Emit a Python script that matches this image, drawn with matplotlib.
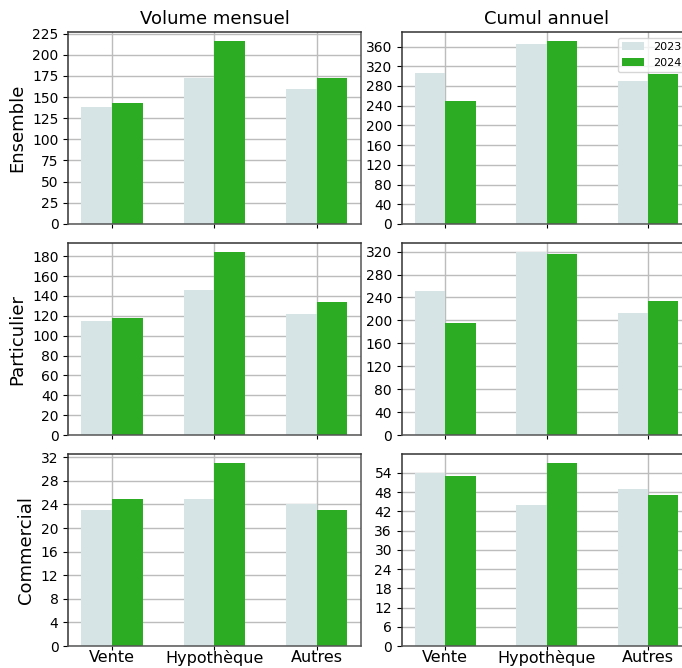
import numpy as np
import matplotlib
matplotlib.use("Agg")
import matplotlib.pyplot as plt
from matplotlib.ticker import MaxNLocator

categories = ["Vente", "Hypothèque", "Autres"]
years = ["2023", "2024"]
rows = ["Ensemble", "Particulier", "Commercial"]
cols = ["Volume mensuel", "Cumul annuel"]

# valeurs (2023, 2024)
ens_mens_2023 = [138, 172, 159]
ens_mens_2024 = [143, 216, 173]
ens_cumul_2023 = [306, 365, 290]
ens_cumul_2024 = [250, 371, 305]

part_mens_2023 = [115, 146, 122]
part_mens_2024 = [118, 184, 134]
part_cumul_2023 = [252, 319, 213]
part_cumul_2024 = [196, 315, 234]

com_mens_2023 = [23, 25, 24]
com_mens_2024 = [25, 31, 23]
com_cumul_2023 = [54, 44, 49]
com_cumul_2024 = [53, 57, 47]

data = [
    [(ens_mens_2023, ens_mens_2024), (ens_cumul_2023, ens_cumul_2024)],
    [(part_mens_2023, part_mens_2024), (part_cumul_2023, part_cumul_2024)],
    [(com_mens_2023, com_mens_2024), (com_cumul_2023, com_cumul_2024)],
]

color_2023 = "#d7e4e6"
color_2024 = "#2bac22"

fig = plt.figure(figsize=(6.82, 6.68), dpi=100)

col_x = [0.1, 0.589]
col_w = [0.429, 0.425]
row_y = [0.6647, 0.3488, 0.0329]
row_h = 0.2874

x = np.arange(len(categories))
w = 0.3

for r in range(3):
    for c in range(2):
        ax = fig.add_axes([col_x[c], row_y[r], col_w[c], row_h])
        v23, v24 = data[r][c]
        ax.bar(x - w / 2, v23, w, color=color_2023, label=years[0])
        ax.bar(x + w / 2, v24, w, color=color_2024, label=years[1])
        ax.set_axisbelow(True)
        ax.grid(True, color="#bcbcbc", linewidth=1)
        ax.yaxis.set_major_locator(MaxNLocator(nbins=10, steps=[1, 2, 2.5, 4, 5, 6, 8, 10]))
        ax.set_xticks(x)
        if r == 2:
            ax.set_xticklabels(categories, fontsize=11.5)
        else:
            ax.set_xticklabels([])
        ax.tick_params(axis="x", length=3, pad=0)
        ax.tick_params(axis="y", labelsize=10)
        for name, s in ax.spines.items():
            s.set_color("#333333" if name in ("left", "top") else "#555555")
            s.set_linewidth(1.1)
        if r == 0:
            ax.set_title(cols[c], fontsize=13)
        if c == 0:
            ax.set_ylabel(rows[r], fontsize=13)
        if r == 0 and c == 1:
            ax.legend(loc="upper right", fontsize=8)

fig.savefig("out.png", dpi=100)
